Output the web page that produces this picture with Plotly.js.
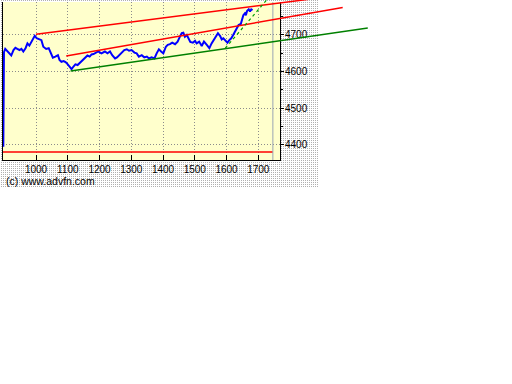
<!DOCTYPE html>
<html><head><meta charset="utf-8">
<script src="https://cdn.plot.ly/plotly-3.0.1.min.js"></script>
<style>
html,body{margin:0;padding:0;background:#fff;}
#wrap{position:relative;width:512px;height:384px;overflow:hidden;background:#fff;}
#dots{position:absolute;left:0;top:0;width:318px;height:188px;
 background-image:conic-gradient(#b0b0b0 25%, #ffffff 0);background-size:2px 2px;}
#chart{position:absolute;left:0;top:0;width:512px;height:384px;}
</style></head><body>
<div id="wrap"><div id="dots"></div><div id="chart"></div></div>
<script>
// ---- data ----
const xTicks = [1000, 1100, 1200, 1300, 1400, 1500, 1600, 1700];
const xTickLabels = ['1000', '1100', '1200', '1300', '1400', '1500', '1600', '1700'];
const yTicks = [4400, 4500, 4600, 4700];
const yTickLabels = ['4400', '4500', '4600', '4700'];
const yMinorTicks = [4450, 4550, 4650, 4750];

const priceX = [897,899,903,910,916,922,929,935,941,948,954,960,967,973,979,986,992,996,1002,1011,1017,1023,1032,1040,1048,1053,1061,1069,1074,1080,1087,1093,1100,1108,1112,1118,1124,1131,1137,1143,1150,1156,1162,1169,1175,1181,1196,1206,1217,1225,1233,1240,1249,1255,1261,1270,1278,1286,1293,1301,1310,1317,1324,1333,1341,1349,1356,1364,1373,1380,1387,1394,1401,1409,1415,1422,1429,1438,1446,1454,1459,1464,1469,1475,1480,1486,1494,1501,1506,1514,1522,1529,1538,1546,1553,1561,1567,1573,1580,1585,1590,1596,1603,1609,1615,1621,1627,1632,1638,1645,1649,1653,1658,1661,1665,1670,1674,1678,1682];
const priceY = [4395,4653,4662,4656,4650,4644,4659,4665,4662,4659,4662,4655,4664,4677,4671,4682,4691,4698,4691,4689,4686,4668,4662,4664,4650,4638,4641,4645,4632,4627,4629,4626,4620,4611,4607,4614,4620,4618,4623,4627,4635,4638,4644,4641,4647,4648,4655,4650,4655,4650,4655,4645,4636,4639,4645,4652,4659,4661,4657,4659,4652,4650,4641,4645,4639,4641,4636,4639,4636,4650,4661,4655,4650,4668,4673,4675,4679,4675,4682,4697,4705,4706,4695,4700,4691,4681,4679,4684,4677,4682,4670,4682,4673,4664,4677,4688,4697,4705,4697,4688,4691,4684,4679,4686,4691,4700,4709,4718,4727,4730,4741,4754,4759,4754,4766,4770,4764,4770,4768];

const upperRedX = [1000, 1860];
const upperRedY = [4702, 4797.5];
const midRedX = [1095, 1966];
const midRedY = [4643, 4775];
const greenX = [1109, 2045];
const greenY = [4602, 4719];
const greenDotX = [1596, 1728];
const greenDotY = [4664, 4797];
const supportX = [896, 1746];
const supportY = [4381, 4381];
const markerX = [1746, 1746];
const markerY = [4359, 4790];

// ---- frame geometry ----
const FONT = '"Liberation Sans", Arial, sans-serif';
const X_LEFT = 896, X_RIGHT = 1768.5, Y_BOTTOM = 4359, Y_TOP = 4790;
const PLOT_W = 509, PLOT_H = 160, FRAME_W = 277, FRAME_TOP = 2;
const ux = (X_RIGHT - X_LEFT) / FRAME_W;
const uy = (Y_TOP - Y_BOTTOM) / (PLOT_H - FRAME_TOP);

const traces = [
  {x: supportX, y: supportY, mode: 'lines', line: {color: '#ff0000', width: 1.5}, xaxis: 'x', yaxis: 'y'},
  {x: markerX, y: markerY, mode: 'lines', line: {color: '#9aa4b4', width: 1}, xaxis: 'x', yaxis: 'y'},
  {x: priceX, y: priceY, mode: 'lines', line: {color: '#0000ff', width: 2}, xaxis: 'x', yaxis: 'y'},
  {x: upperRedX, y: upperRedY, mode: 'lines', line: {color: '#ff0000', width: 1.5}, xaxis: 'x2', yaxis: 'y2'},
  {x: midRedX, y: midRedY, mode: 'lines', line: {color: '#ff0000', width: 1.5}, xaxis: 'x2', yaxis: 'y2'},
  {x: greenX, y: greenY, mode: 'lines', line: {color: '#008000', width: 1.5}, xaxis: 'x2', yaxis: 'y2'},
  {x: greenDotX, y: greenDotY, mode: 'lines', line: {color: '#00a000', width: 1.2, dash: 'dot'}, xaxis: 'x2', yaxis: 'y2'}
];

const tickFont = {family: FONT, size: 10, color: '#000'};
const layout = {
  width: 512, height: 384,
  margin: {l: 3, r: 0, t: 0, b: 224, pad: 0},
  paper_bgcolor: 'rgba(0,0,0,0)', plot_bgcolor: 'rgba(0,0,0,0)',
  showlegend: false,
  xaxis: {
    domain: [0, FRAME_W / PLOT_W], range: [X_LEFT, X_RIGHT],
    tickmode: 'array', tickvals: xTicks, ticktext: xTickLabels,
    ticks: 'inside', ticklen: 5, tickcolor: '#000', tickwidth: 1,
    showline: true, linecolor: '#000', linewidth: 1, mirror: false,
    showgrid: true, gridcolor: '#8c8c8c', griddash: '1px,2px', gridwidth: 1,
    zeroline: false, tickfont: tickFont, fixedrange: true
  },
  yaxis: {
    domain: [0, (PLOT_H - FRAME_TOP) / PLOT_H], range: [Y_BOTTOM, Y_TOP],
    side: 'right',
    tickmode: 'array', tickvals: yTicks, ticktext: yTickLabels,
    ticks: 'outside', ticklen: 3, tickcolor: '#000', tickwidth: 1,
    ticklabelstandoff: -1,
    minor: {tickmode: 'array', tickvals: yMinorTicks, ticks: 'outside', ticklen: 2, tickcolor: '#000', showgrid: false},
    showline: true, linecolor: '#000', linewidth: 1, mirror: true,
    showgrid: true, gridcolor: '#8c8c8c', griddash: '1px,2px', gridwidth: 1,
    zeroline: false, tickfont: tickFont, fixedrange: true
  },
  xaxis2: {domain: [0, 1], range: [X_LEFT, X_LEFT + PLOT_W * ux], anchor: 'y2', visible: false, fixedrange: true},
  yaxis2: {domain: [0, 1], range: [Y_BOTTOM, Y_BOTTOM + PLOT_H * uy], anchor: 'x2', visible: false, fixedrange: true},
  shapes: [
    {type: 'rect', xref: 'x', yref: 'y', x0: X_LEFT, x1: X_RIGHT, y0: Y_BOTTOM, y1: Y_TOP,
     fillcolor: '#ffffcc', line: {width: 0}, layer: 'below'}
  ],
  annotations: [
    {text: '(c) www.advfn.com', xref: 'paper', yref: 'paper', x: 1 / PLOT_W, y: -21 / PLOT_H,
     xanchor: 'left', yanchor: 'middle', showarrow: false, font: {family: FONT, size: 10.5, color: '#000'}}
  ]
};

Plotly.newPlot('chart', traces, layout, {staticPlot: true, displayModeBar: false});
</script></body></html>
